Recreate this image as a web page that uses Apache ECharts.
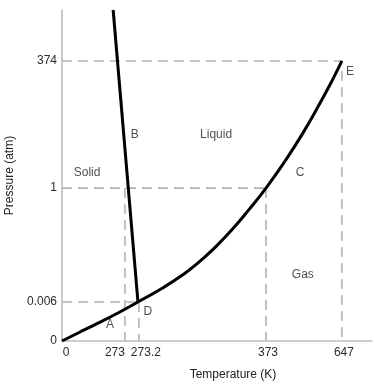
<!DOCTYPE html>
<html>
<head>
<meta charset="utf-8">
<script src="https://cdn.jsdelivr.net/npm/echarts@6/dist/echarts.min.js"></script>
<style>html,body{margin:0;padding:0;background:#fff}#c{width:374px;height:384px}</style>
</head>
<body>
<div id="c"></div>
<script>
// Schematic phase diagram of water (display units 0-100 on both axes)
const xTickLabels = ['0', '273', '273.2', '373', '647'];
const xTickPos = [0, 20.3, 24.8, 65.8, 90.3];
const xLabelShift = [4, -10, 7, 2, 2];
const yTickLabels = ['0', '0.006', '1', '374'];
const yTickPos = [0, 11.8, 46.2, 84.6];

// Curves (schematic)
const curveA = [[0, 0], [6, 2.8], [12.3, 5.7], [18.5, 8.7], [24.5, 11.8]];
const curveB = [[16.5, 100], [24.5, 11.8]];
const curveC = [[24.5, 11.8], [32.6, 16.1], [38.5, 19.7], [43.5, 23.3], [49.4, 28.3], [54.8, 33.6], [60.3, 39.7], [65.8, 46.2], [71.9, 54.3], [77.7, 62.8], [83.2, 71.8], [87.1, 78.6], [90.3, 84.6]];

const regionLabels = [
  ['Solid', 8.1, 50.8], ['B', 23.5, 62.2], ['Liquid', 49.7, 62.2], ['C', 76.8, 50.8],
  ['E', 92.9, 81.3], ['Gas', 77.7, 19.9], ['D', 27.7, 8.8], ['A', 15.5, 4.8]
];

const TRIPLE = [xTickPos[2], yTickPos[1]];
const BOIL = [xTickPos[3], yTickPos[2]];
const CRIT = [xTickPos[4], yTickPos[3]];

const dashStyle = { color: '#b3b3b3', width: 1.6, type: [10, 6] };
function dashed(pts) {
  return { type: 'line', data: pts, symbol: 'none', silent: true, lineStyle: dashStyle, z: 1 };
}
function solid(pts, smooth) {
  return { type: 'line', data: pts, symbol: 'none', smooth: smooth, silent: true,
    lineStyle: { color: '#000', width: 3 }, z: 3 };
}
const font = 'Liberation Sans, Arial, Helvetica, sans-serif';

const xRich = {};
xLabelShift.forEach((s, i) => {
  xRich['s' + i] = { fontFamily: font, fontSize: 12, color: '#2a2a2a',
    padding: s >= 0 ? [0, 0, 0, 2 * s] : [0, -2 * s, 0, 0] };
});

const chart = echarts.init(document.getElementById('c'));
chart.setOption({
  animation: false,
  grid: { left: 62, top: 10, right: 2, bottom: 43, outerBoundsMode: 'none', containLabel: false },
  xAxis: {
    type: 'value', min: 0, max: 100,
    name: 'Temperature (K)', nameLocation: 'middle', nameGap: 28,
    nameTextStyle: { fontFamily: font, fontSize: 12, color: '#222', padding: [0, 0, 0, 32] },
    axisLine: { show: true, lineStyle: { color: '#bdbdbd', width: 1.6 } },
    axisTick: { show: false },
    splitLine: { show: false },
    axisLabel: {
      customValues: xTickPos, fontFamily: font, fontSize: 12, color: '#2a2a2a', margin: 6,
      hideOverlap: false,
      rich: xRich,
      formatter: function (v) { const i = xTickPos.indexOf(v); return i >= 0 ? '{s' + i + '|' + xTickLabels[i] + '}' : ''; }
    }
  },
  yAxis: {
    type: 'value', min: 0, max: 100,
    name: 'Pressure (atm)', nameLocation: 'middle', nameGap: 29,
    nameTextStyle: { fontFamily: font, fontSize: 12, color: '#222' },
    axisLine: { show: true, lineStyle: { color: '#bdbdbd', width: 1.6 } },
    axisTick: { show: false },
    splitLine: { show: false },
    axisLabel: {
      customValues: yTickPos, fontFamily: font, fontSize: 12, color: '#2a2a2a', margin: 5,
      formatter: function (v) { const i = yTickPos.indexOf(v); return i >= 0 ? yTickLabels[i] : ''; }
    }
  },
  series: [
    dashed([[0, CRIT[1]], CRIT]),
    dashed([[0, BOIL[1]], BOIL]),
    dashed([[0, TRIPLE[1]], TRIPLE]),
    dashed([[xTickPos[1], BOIL[1]], [xTickPos[1], 0]]),
    dashed([[TRIPLE[0], TRIPLE[1]], [TRIPLE[0], 0]]),
    dashed([BOIL, [BOIL[0], 0]]),
    dashed([[CRIT[0], CRIT[1] - 3], [CRIT[0], 0]]),
    solid(curveA, 0.3),
    solid(curveB, false),
    solid(curveC, 0.5),
    {
      type: 'scatter', symbolSize: 0, silent: true, z: 5,
      data: regionLabels.map(r => ({ value: [r[1], r[2]], name: r[0] })),
      label: { show: true, position: 'inside', formatter: p => p.name,
        fontFamily: font, fontSize: 12, color: '#222' }
    }
  ]
});
</script>
</body>
</html>
